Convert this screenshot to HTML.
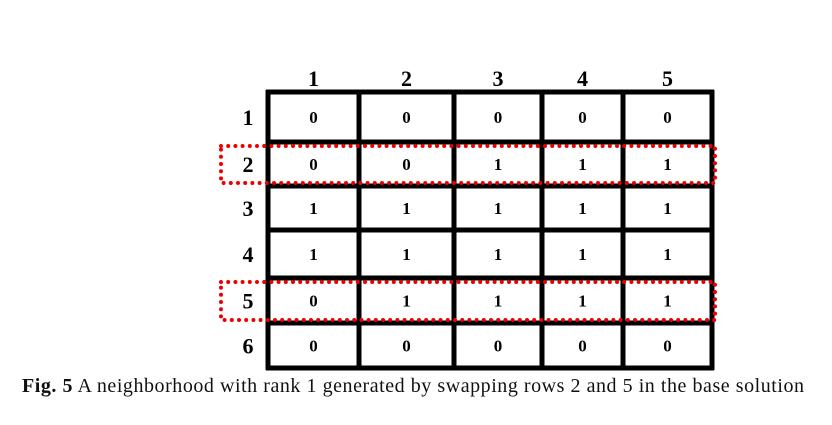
<!DOCTYPE html>
<html><head><meta charset="utf-8"><style>
body{margin:0;background:#fff;width:832px;height:420px;overflow:hidden;font-family:"Liberation Serif",serif}
</style></head><body>
<svg width="832" height="420">
<g id="grid"></g>
<g id="txt"></g>
<g id="hl"></g>
<text x="22" y="392" font-size="20" fill="#111" textLength="782" lengthAdjust="spacing"><tspan font-weight="bold">Fig. 5</tspan>  A neighborhood with rank 1 generated by swapping rows 2 and 5 in the base solution</text>
</svg>
<script>
const colLabels=["1","2","3","4","5"];
const rowLabels=["1","2","3","4","5","6"];
const values=[[0,0,0,0,0],[0,0,1,1,1],[1,1,1,1,1],[1,1,1,1,1],[0,1,1,1,1],[0,0,0,0,0]];
const swappedRows=[2,5];
const xs=[268,359,454,542,623,712];
const ys=[92,142,186,230,278,323,368];
const NS="http://www.w3.org/2000/svg";
function mk(t,a,p){const e=document.createElementNS(NS,t);for(const k in a)e.setAttribute(k,a[k]);p.appendChild(e);return e;}
const g=document.getElementById('grid'),tx=document.getElementById('txt'),hl=document.getElementById('hl');
xs.forEach(x=>{const l=mk('line',{x1:x,x2:x,y1:ys[0]-2,y2:ys[6]+2,stroke:'#000','stroke-width':5},g);

});
ys.forEach(y=>{const l=mk('line',{x1:xs[0]-2,x2:xs[5]+2,y1:y,y2:y,stroke:'#000','stroke-width':5},g);

});
colLabels.forEach((c,i)=>{const t=mk('text',{x:(xs[i]+xs[i+1])/2,y:86,'font-size':22,'font-weight':'bold','text-anchor':'middle'},tx);t.textContent=c;

});
rowLabels.forEach((r,j)=>{const t=mk('text',{x:248,y:(ys[j]+ys[j+1])/2+8,'font-size':22,'font-weight':'bold','text-anchor':'middle'},tx);t.textContent=r;

});
values.forEach((row,j)=>row.forEach((v,i)=>{const t=mk('text',{x:(xs[i]+xs[i+1])/2,y:(ys[j]+ys[j+1])/2+6,'font-size':17,'font-weight':'bold','text-anchor':'middle'},tx);t.textContent=v;

}));
swappedRows.forEach(r=>{const y0=ys[r-1]+4,y1=ys[r]-3;const e=mk('rect',{x:221,y:y0,width:494,height:y1-y0,fill:'none',stroke:'#e00','stroke-width':4,'stroke-dasharray':'0 7.2','stroke-linecap':'round'},hl);

});
</script>
</body></html>
